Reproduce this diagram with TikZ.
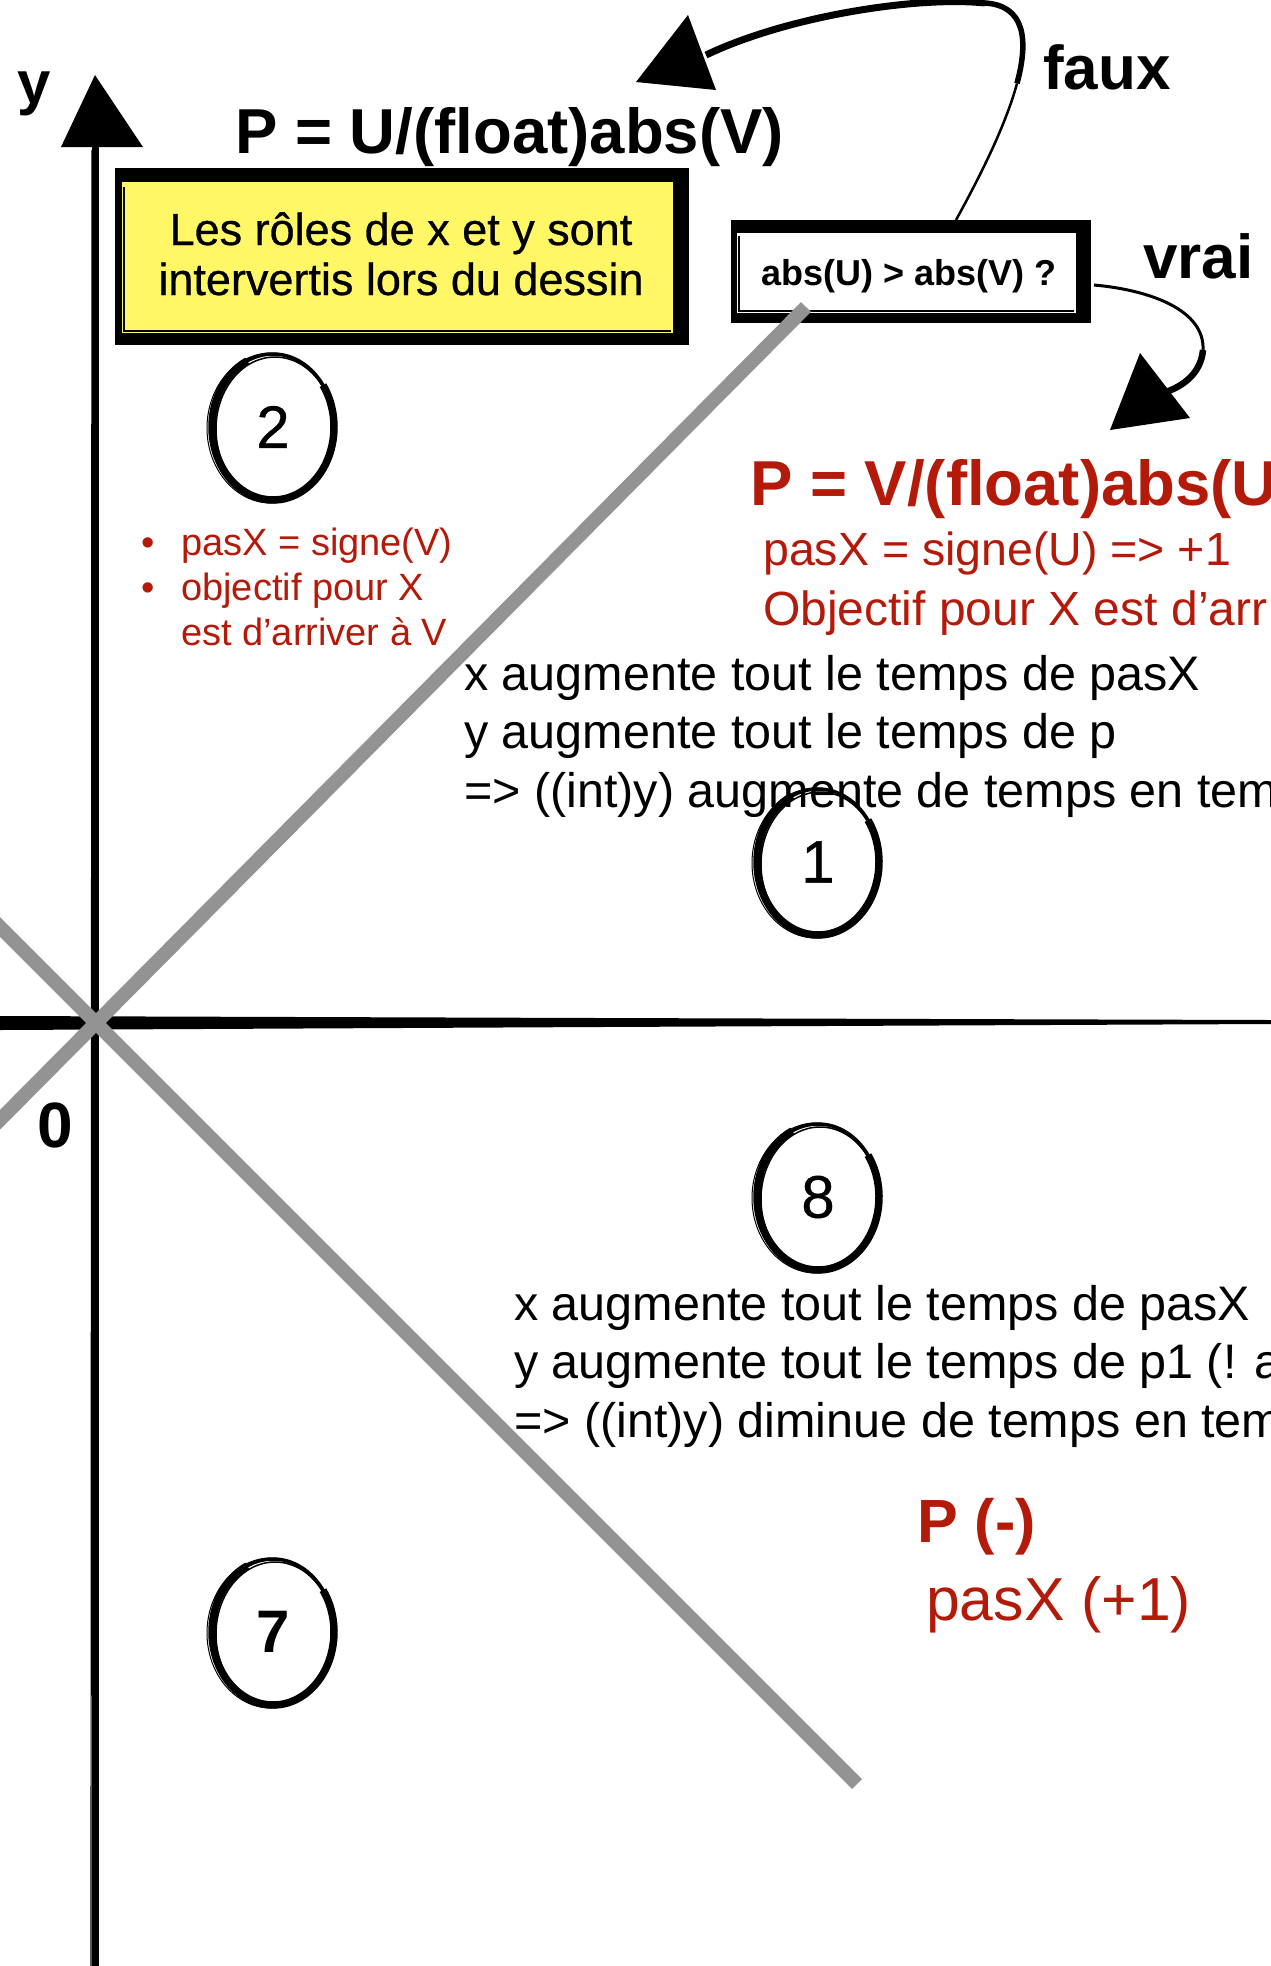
\documentclass[tikz,border=0pt]{standalone}
\usepackage{fontspec}
\setmainfont{Liberation Sans}
\newfontfamily\medfont[FakeBold=0.6]{Liberation Sans}
\usetikzlibrary{shapes.geometric,calc}
\definecolor{redc}{RGB}{180,26,10}
\definecolor{grayl}{RGB}{147,147,147}
\definecolor{yellowc}{RGB}{255,247,102}
\newcommand\myfs[1]{\fontsize{#1}{#1}\selectfont}
\newcommand\sketchell[1]{%
  \draw[line width=3.5pt] (#1.center) ellipse [x radius=61, y radius=73];
  \draw[line width=7.5pt] (#1.center) ++(-35:61 and 73) arc [start angle=-35, end angle=245, x radius=61, y radius=73];
  \draw[line width=1.5pt] ([shift={(2,2)}]#1.center) ellipse [x radius=59, y radius=72];
  \draw[line width=1pt] ([shift={(-2,1)}]#1.center) ellipse [x radius=64, y radius=75];
}
\begin{document}
\begin{tikzpicture}[x=1pt,y=-1pt,
  lbl/.style={inner sep=0pt, anchor=base west},
  numc/.style={ellipse, inner sep=0pt, minimum width=122pt, minimum height=146pt, font=\medfont\myfs{60}},
  redtxt/.style={lbl, text=redc},
  blk/.style={lbl, font=\myfs{48.5}},
  grayline/.style={draw=grayl, line width=14pt}
]
\useasboundingbox (0,0) rectangle (1271,1966);
\clip (0,0) rectangle (1271,1966);

% ---- yellow note box
\node[fill=black, minimum width=574pt, minimum height=177pt, inner sep=0pt] (noteshadow) at (402,256.5) {};
\node[fill=yellowc, minimum width=551pt, minimum height=151pt, inner sep=0pt] (note) at (397.5,257.5) {};
\draw[line width=1.2pt] (124,187) -- (124,331) -- (671,331);
\node[inner sep=0pt, anchor=base, font=\medfont\myfs{45}] (notel1) at (401,245) {Les rôles de x et y sont};
\node[inner sep=0pt, anchor=base, font=\medfont\myfs{45}] (notel2) at (401,295) {intervertis lors du dessin};

% ---- condition box
\node[fill=black, minimum width=360pt, minimum height=103pt, inner sep=0pt] (condshadow) at (911,271.5) {};
\node[fill=white, minimum width=339pt, minimum height=80pt, inner sep=0pt] (cond) at (906.5,273) {};
\draw[line width=1.2pt] (739,236) -- (739,311) -- (1074,311);
\node[inner sep=0pt, anchor=base, font=\bfseries\myfs{36}] (condtext) at (909,285) {abs(U) > abs(V) ?};

% ---- titles and labels
\node[lbl, font=\bfseries\myfs{63.5}] (titleU) at (235,153) {P = U/(float)abs(V)};
\node[lbl, font=\bfseries\myfs{62}] (faux) at (1043,89) {faux};
\node[lbl, font=\bfseries\myfs{62}] (vrai) at (1143,278) {vrai};
\node[lbl, font=\bfseries\myfs{60}] (ylab) at (17,103) {y};
\node[lbl, font=\bfseries\myfs{64}] (zero) at (37,1147) {0};

% ---- red texts (octant 2)
\node[redtxt, font=\myfs{38}] (bul1) at (141,555) {\textbullet};
\node[redtxt, font=\myfs{38}] (bul2) at (141,600) {\textbullet};
\node[redtxt, font=\myfs{38}] (r2a) at (181,555) {pasX = signe(V)};
\node[redtxt, font=\myfs{38}] (r2b) at (181,600) {objectif pour X};
\node[redtxt, font=\myfs{38}] (r2c) at (181,645) {est d’arriver à V};

% ---- red texts (octant 1)
\node[redtxt, font=\bfseries\myfs{63.5}] (titleV) at (750,505) {P = V/(float)abs(U};
\node[redtxt, font=\myfs{46.5}] (r1a) at (763,565) {pasX = signe(U) => +1};
\node[redtxt, font=\myfs{48}] (r1b) at (763,625) {Objectif pour X est d’arr};

% ---- black text blocks
\node[blk] (b1a) at (464,690) {x augmente tout le temps de pasX};
\node[blk] (b1b) at (464,748) {y augmente tout le temps de p};
\node[blk] (b1c) at (464,807) {=> ((int)y) augmente de temps en temp};
\node[blk] (b2a) at (514,1320) {x augmente tout le temps de pasX};
\node[blk] (b2b) at (514,1378) {y augmente tout le temps de p1 (! a};
\node[blk] (b2c) at (514,1437) {=> ((int)y) diminue de temps en tem};

% ---- red texts (octant 8)
\node[redtxt, font=\bfseries\myfs{61}] (pminus) at (917,1542) {P (-)};
\node[redtxt, font=\myfs{60.7}] (pasxp) at (926,1620) {pasX (+1)};

% ---- numbered circles
\node[numc] (c2) at (273,427) {2};
\node[numc] (c1) at (818,862) {1};
\node[numc] (c8) at (818,1197) {8};
\node[numc, font=\bfseries\myfs{60}] (c7) at (273,1632) {7};
\sketchell{c2}
\sketchell{c1}
\sketchell{c8}
\sketchell{c7}

% ---- axes
\coordinate (O) at (96,1023);
\coordinate (ytip) at (95,75);
\coordinate (ybot) at (95,1966);
\draw[line width=7pt] (ybot) -- (95,140);
\draw[line width=1.2pt] (91,1966) -- (92,150);
\fill (ytip) -- (61,147) -- (143,147) -- cycle;
\fill (0,1016) -- (600,1018) -- (1271,1020) -- (1271,1024) -- (600,1027) -- (0,1030) -- cycle;

% ---- gray diagonals
\coordinate (gAtop) at (806,307);
\coordinate (gAbot) at (-30,1150);
\coordinate (gBtop) at (-30,897);
\coordinate (gBbot) at (857,1784);
\draw[grayline] (gAtop) -- (O) -- (gAbot);
\draw[grayline] (gBtop) -- (O) -- (gBbot);

% ---- faux arrow
\coordinate (fauxstart) at (956,220);
\coordinate (fauxmid) at (1017,83.4);
\coordinate (fauxtop) at (985,3);
\coordinate (fauxend) at (706,55);
\draw[line width=2.5pt] (fauxstart) .. controls (978,180) and (1005.25,127) .. (fauxmid);
\draw[line width=5.5pt] (fauxmid) .. controls (1028.75,39.75) and (1025,5.5) .. (fauxtop);
\draw[line width=7pt] (fauxtop) .. controls (920,-4) and (790,15) .. (fauxend);
\fill (688,15) -- (636,82) -- (716,90) -- cycle;

% ---- vrai arrow
\coordinate (vraistart) at (1094,285);
\coordinate (vraimid) at (1203,350);
\coordinate (vraiend) at (1163,393);
\draw[line width=3pt] (vraistart) .. controls (1150,290) and (1205,310) .. (vraimid);
\draw[line width=6.5pt] (vraimid) .. controls (1201,372) and (1185,386) .. (vraiend);
\fill (1110,430) -- (1140,353) -- (1190,418) -- cycle;
\end{tikzpicture}
\end{document}
